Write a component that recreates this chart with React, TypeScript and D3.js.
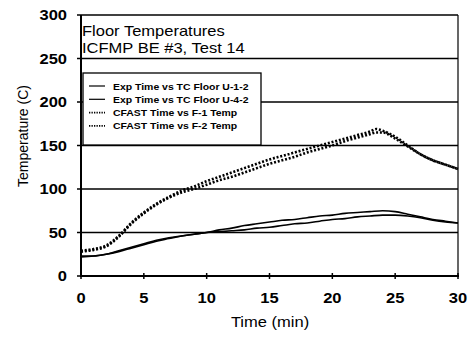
import React from "react";
import * as d3 from "d3";

const xTicks = [0, 5, 10, 15, 20, 25, 30];
const yTicks = [0, 50, 100, 150, 200, 250, 300];

const expTime = [0, 1, 2, 3, 4, 5, 6, 7, 8, 9, 10, 11, 12, 13, 14, 15, 16, 17, 18, 19, 20, 21, 22, 23, 24, 25, 26, 27, 28, 29, 30];
const expU12 = [23, 23, 25, 29, 33, 37, 41, 44, 46, 48, 50, 53, 55, 58, 60, 62, 64, 65, 67, 69, 70, 72, 73, 74, 75, 74, 71, 68, 65, 63, 61];
const expU42 = [22, 23, 25, 28, 32, 36, 40, 43, 46, 48, 50, 51, 52, 53, 55, 56, 58, 60, 61, 63, 65, 66, 68, 69, 70, 70, 69, 67, 64, 62, 61];

const cfastTime = [0, 1, 2, 3, 4, 5, 6, 7, 8, 9, 10, 11, 12, 13, 14, 15, 16, 17, 18, 19, 20, 21, 22, 23, 23.5, 24, 25, 26, 27, 28, 29, 30];
const cfastF1 = [29, 31, 35, 46, 61, 73, 83, 91, 98, 103, 109, 114, 119, 124, 129, 134, 138, 142, 146, 150, 154, 158, 162, 166, 169, 167, 160, 150, 140, 133, 128, 123];
const cfastF2 = [28, 30, 34, 45, 60, 72, 82, 90, 96, 100, 105, 110, 114, 119, 124, 129, 133, 137, 142, 146, 150, 155, 159, 163, 165, 165, 158, 149, 140, 133, 128, 123];

const legendLabels = [
  "Exp Time vs TC Floor U-1-2",
  "Exp Time vs TC Floor U-4-2",
  "CFAST Time vs F-1 Temp",
  "CFAST Time vs F-2 Temp",
];

const font = "Liberation Sans, Arial, sans-serif";

function T(props: { x: number; y: number; sx?: number; size: number; bold?: boolean; anchor?: string; rotate?: number; children: any }) {
  const { x, y, sx = 1.18, size, bold, anchor = "start", rotate = 0, children } = props;
  const tr = rotate
    ? `translate(${x},${y}) rotate(${rotate}) scale(1,1)`
    : `translate(${x},${y}) scale(${sx},1)`;
  return (
    <text transform={tr} textAnchor={anchor} fontFamily={font} fontSize={size} fontWeight={bold ? "bold" : "normal"} fill="#000">
      {children}
    </text>
  );
}

export default function App() {
  const W = 472, H = 337;
  const left = 81, right = 458, top = 15, bottom = 276;
  const x = d3.scaleLinear().domain([0, 30]).range([left, right]);
  const y = d3.scaleLinear().domain([0, 300]).range([bottom, top]);
  const line = (xs: number[], ys: number[]) =>
    d3.line<number>().x((_, i) => x(xs[i])).y((d) => y(d)).curve(d3.curveMonotoneX)(ys) || "";

  const series = [
    { xs: expTime, ys: expU12, dash: null },
    { xs: expTime, ys: expU42, dash: null },
    { xs: cfastTime, ys: cfastF1, dash: "2,1.8" },
    { xs: cfastTime, ys: cfastF2, dash: "2,1.8" },
  ];

  return (
    <svg width={W} height={H} style={{ position: "absolute", left: 0, top: 0, background: "#fff" }}>
      <rect x={0} y={0} width={W} height={H} fill="#fff" />
      {yTicks.filter((t) => t > 0).map((t) => (
        <line key={t} x1={left} x2={right} y1={y(t)} y2={y(t)} stroke="#000" strokeWidth={1.4} />
      ))}
      <line x1={right} x2={right} y1={top} y2={bottom} stroke="#000" strokeWidth={1.2} />
      <line x1={left} x2={left} y1={top} y2={bottom + 1} stroke="#000" strokeWidth={2} />
      <line x1={left} x2={right + 1} y1={bottom} y2={bottom} stroke="#000" strokeWidth={2} />
      {yTicks.map((t) => (
        <line key={"yt" + t} x1={left - 4} x2={left} y1={y(t)} y2={y(t)} stroke="#000" strokeWidth={1.5} />
      ))}
      {xTicks.map((t) => (
        <line key={"xt" + t} x1={x(t)} x2={x(t)} y1={bottom - 3} y2={bottom + 3} stroke="#000" strokeWidth={1.5} />
      ))}
      {yTicks.map((t) => (
        <T key={"yl" + t} x={67} y={y(t) + 5} size={14} bold anchor="end">{t}</T>
      ))}
      {xTicks.map((t) => (
        <T key={"xl" + t} x={x(t)} y={303} size={14} bold anchor="middle">{t}</T>
      ))}
      <T x={270} y={327} size={14} anchor="middle">Time (min)</T>
      <T x={28} y={136} size={14} anchor="middle" rotate={-90}>Temperature (C)</T>
      <T x={82} y={36} size={14}>Floor Temperatures</T>
      <T x={82} y={53} size={14}>ICFMP BE #3, Test 14</T>
      {series.map((s, i) => (
        <path key={"s" + i} d={line(s.xs, s.ys)} fill="none" stroke="#000"
          strokeWidth={s.dash ? 2.6 : 1.6} strokeDasharray={s.dash || undefined} />
      ))}
      <rect x={83} y={73} width={178} height={72} fill="#fff" stroke="#000" strokeWidth={1.3} />
      {legendLabels.map((lab, i) => {
        const ly = 86 + i * 13.3;
        const s = series[i];
        return (
          <g key={"lg" + i}>
            <line x1={89} x2={105} y1={ly} y2={ly} stroke="#000" strokeWidth={s.dash ? 1.6 : 1.2} strokeDasharray={s.dash ? "1.3,1.2" : undefined} />
            <T x={113} y={ly + 3.5} size={9.5} sx={1.1} bold>{lab}</T>
          </g>
        );
      })}
    </svg>
  );
}
